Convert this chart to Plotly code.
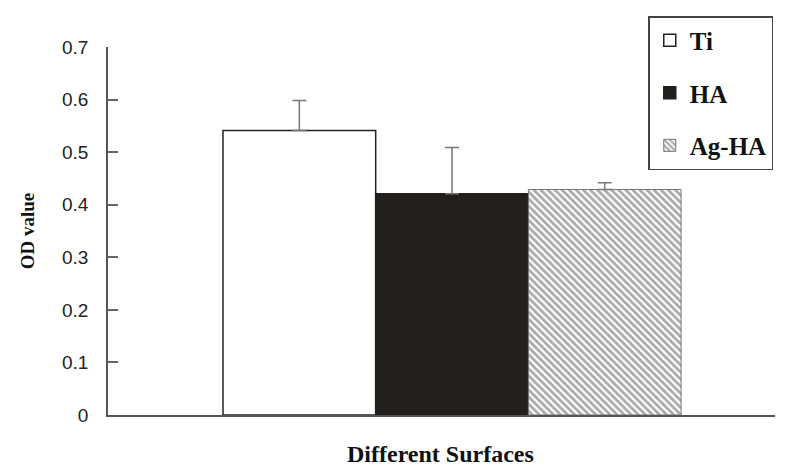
import plotly.graph_objects as go

surfaces = ["Ti", "HA", "Ag-HA"]
od_values = [0.541, 0.421, 0.429]
od_errors = [0.057, 0.088, 0.013]
positions = [1, 2, 3]
y_ticks = [0, 0.1, 0.2, 0.3, 0.4, 0.5, 0.6, 0.7]
y_ticklabels = ["0", "0.1", "0.2", "0.3", "0.4", "0.5", "0.6", "0.7"]

styles = [
    dict(color="white", line=dict(color="#222", width=1.5)),
    dict(color="#231f1c", line=dict(color="#231f1c", width=1.5)),
    dict(color="white", line=dict(color="#777", width=1),
         pattern=dict(shape="\\", fgcolor="#555", bgcolor="white", size=5, solidity=0.55)),
]

fig = go.Figure()
for i, name in enumerate(surfaces):
    fig.add_trace(go.Bar(
        x=[positions[i]], y=[od_values[i]], name=name, width=1,
        marker=styles[i], legendgroup=name,
        error_y=dict(type="data", array=[od_errors[i]], arrayminus=[0],
                     color="#777", thickness=1.5, width=7),
    ))

serif = "Liberation Serif, Times New Roman, serif"
fig.update_layout(
    width=786, height=470,
    margin=dict(l=108, r=11, t=47, b=55, autoexpand=False),
    plot_bgcolor="white", paper_bgcolor="white",
    showlegend=True,
    legend=dict(x=0.81, y=1.084, xanchor="left", yanchor="top",
                bordercolor="#444", borderwidth=1.5,
                font=dict(family=serif, size=25, color="#111", weight="bold"),
                tracegroupgap=17, traceorder="grouped", itemwidth=30),
    xaxis=dict(range=[-0.253, 4.115], showticklabels=False, ticks="",
               showline=True, linecolor="#555", linewidth=1.5,
               showgrid=False, zeroline=False),
    yaxis=dict(range=[0, 0.7], tickvals=y_ticks, ticktext=y_ticklabels,
               ticks="inside", ticklen=10, tickcolor="#666", tickwidth=1.5,
               ticklabelstandoff=14,
               tickfont=dict(family="Liberation Sans, Arial, sans-serif", size=19, color="#222"),
               showline=True, linecolor="#555", linewidth=1.5,
               showgrid=False, zeroline=False,
               title=dict(text="<b>OD value</b>", font=dict(family=serif, size=19, color="#111"),
                          standoff=22)),
    annotations=[dict(text="<b>Different Surfaces</b>", xref="paper", yref="paper",
                      x=0.498, y=-0.105, xanchor="center", yanchor="middle", showarrow=False,
                      font=dict(family=serif, size=24, color="#111"))],
)

fig.write_html("out.html", config={"displayModeBar": False},
               post_script="document.body.style.margin='0';")
